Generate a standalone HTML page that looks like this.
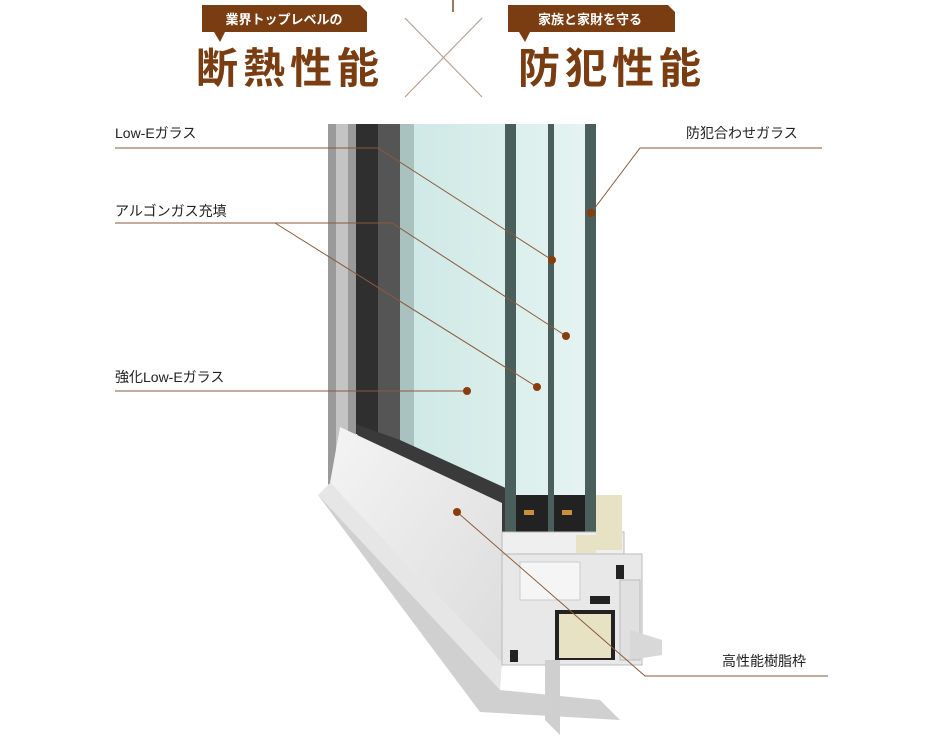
<!DOCTYPE html>
<html><head><meta charset="utf-8"><style>
body{margin:0;background:#fff;width:926px;height:740px;overflow:hidden;font-family:"Liberation Sans","Noto Sans CJK JP",sans-serif}
svg{display:block}
</style></head><body>
<svg width="926" height="740" viewBox="0 0 926 740" xmlns="http://www.w3.org/2000/svg">
<defs>
<linearGradient id="gl" x1="0" x2="1" y1="0" y2="0"><stop offset="0" stop-color="#cfe9e6"/><stop offset="1" stop-color="#e6f4f2"/></linearGradient>
<linearGradient id="sill" x1="0" x2="1" y1="0" y2="1"><stop offset="0" stop-color="#f4f4f4"/><stop offset="1" stop-color="#dcdcdc"/></linearGradient>
</defs>
<line x1="453" y1="0" x2="453" y2="12" stroke="#7a4a2a" stroke-width="1.5"/>
<polygon points="202,5 360,5 367,12 367,32 225,32 220,42 214,32 202,32" fill="#7a3d12"/>
<text x="284" y="24" font-size="13" font-weight="bold" fill="#fff" text-anchor="middle">業界トップレベルの</text>
<text x="290" y="83" font-size="42" font-weight="bold" fill="#7a3d12" text-anchor="middle" letter-spacing="5">断熱性能</text>
<line x1="405" y1="18" x2="482" y2="97" stroke="#b8a090" stroke-width="1.2"/>
<line x1="482" y1="18" x2="405" y2="97" stroke="#b8a090" stroke-width="1.2"/>
<polygon points="508,5 668,5 675,12 675,32 530,32 525,42 519,32 508,32" fill="#7a3d12"/>
<text x="590" y="24" font-size="13" font-weight="bold" fill="#fff" text-anchor="middle">家族と家財を守る</text>
<text x="612" y="83" font-size="42" font-weight="bold" fill="#7a3d12" text-anchor="middle" letter-spacing="5">防犯性能</text>
<rect x="328" y="124" width="28" height="370" fill="#9a9a9a"/>
<rect x="336" y="124" width="12" height="370" fill="#c4c4c4"/>
<rect x="356" y="124" width="22" height="310" fill="#2f2f2f"/>
<rect x="378" y="124" width="22" height="320" fill="#555"/>
<rect x="400" y="124" width="14" height="330" fill="#a9c2c0"/>
<rect x="414" y="124" width="182" height="380" fill="url(#gl)"/>
<polygon points="356,424 400,440 510,490 510,540 500,540 360,460" fill="#3a3a3a"/>
<rect x="516" y="495" width="32" height="40" fill="#222"/><rect x="554" y="495" width="31" height="40" fill="#222"/>
<rect x="524" y="510" width="10" height="5" fill="#c8903a"/><rect x="562" y="510" width="10" height="5" fill="#c8903a"/>
<rect x="505" y="124" width="11" height="408" fill="#4a5e5b"/>
<rect x="548" y="124" width="6" height="408" fill="#4a5e5b"/>
<rect x="585" y="124" width="11" height="408" fill="#4a5e5b"/>
<polygon points="340,427 502,503 502,663 330,483" fill="url(#sill)"/>
<polygon points="330,483 502,663 500,690 480,712 318,495" fill="#e6e6e6"/>
<polygon points="318,495 480,712 620,720 600,700 500,690" fill="#d0d0d0"/>
<rect x="502" y="532" width="122" height="22" fill="#efefef" stroke="#bbb"/>
<rect x="596" y="495" width="26" height="55" fill="#e7e2c4"/>
<rect x="576" y="535" width="20" height="18" fill="#e7e2c4"/>
<rect x="502" y="554" width="140" height="111" fill="#e8e8e8" stroke="#bbb"/>
<rect x="520" y="562" width="60" height="38" fill="#f5f5f5" stroke="#ccc"/>
<rect x="555" y="610" width="60" height="50" fill="#222"/>
<rect x="559" y="614" width="52" height="44" fill="#e7e2c4"/>
<rect x="620" y="580" width="20" height="80" fill="#e0e0e0" stroke="#bbb"/>
<polygon points="630,630 662,640 662,655 630,660" fill="#d8d8d8"/>
<polygon points="545,660 560,660 560,735 545,720" fill="#cfcfcf"/>
<rect x="590" y="596" width="20" height="8" fill="#222"/>
<rect x="616" y="565" width="8" height="14" fill="#222"/>
<rect x="510" y="650" width="8" height="12" fill="#222"/>
<g stroke="#8a5a3a" stroke-width="1" fill="none">
<polyline points="115,148 378,148 552,260"/>
<polyline points="115,223 392,223 566,336"/>
<line x1="275" y1="223" x2="537" y2="387"/>
<line x1="115" y1="391" x2="467" y2="391"/>
<polyline points="822,148 640,148 591,213"/>
<polyline points="828,676 645,676 457,512"/>
</g>
<g fill="#8a3d0a">
<circle cx="552" cy="260" r="4"/><circle cx="566" cy="336" r="4"/><circle cx="537" cy="387" r="4"/>
<circle cx="467" cy="391" r="4"/><circle cx="591" cy="213" r="4"/><circle cx="457" cy="512" r="4"/>
</g>
<g font-size="14" fill="#222">
<text x="115" y="138">Low-Eガラス</text>
<text x="115" y="216">アルゴンガス充填</text>
<text x="115" y="382">強化Low-Eガラス</text>
<text x="686" y="138">防犯合わせガラス</text>
<text x="722" y="666">高性能樹脂枠</text>
</g>
</svg>
</body></html>
